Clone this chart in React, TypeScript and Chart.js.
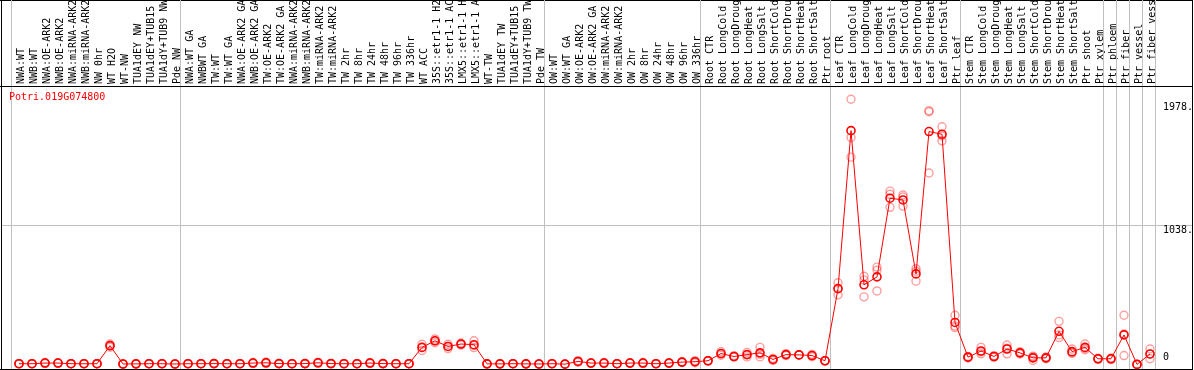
import React, { useEffect, useRef } from "react";
import { Chart, registerables } from "chart.js";

Chart.register(...registerables);

const geneTitle = "Potri.019G074800";

const xLabels: string[] = [
  "NWA:WT", "NWB:WT", "NWA:OE-ARK2", "NWB:OE-ARK2", "NWA:miRNA-ARK2", "NWB:miRNA-ARK2", "NW 0hr", "WT H2O", "WT-NW",
  "TUA1dEY NW", "TUA1dEY+TUB15 NW", "TUA1dY+TUB9 NW", "Pde NW",
  "NWA:WT GA", "NWBWT GA", "TW:WT", "TW:WT GA", "NWA:OE-ARK2 GA", "NWB:OE-ARK2 GA", "TW:OE-ARK2", "TW:OE-ARK2 GA",
  "NWA:miRNA-ARK2 GA", "NWB:miRNA-ARK2 GA", "TW:miRNA-ARK2", "TW:miRNA-ARK2 GA", "TW 2hr", "TW 8hr", "TW 24hr", "TW 48hr",
  "TW 96hr", "TW 336hr", "WT ACC", "35S::etr1-1 H2O", "35S::etr1-1 ACC", "LMX5::etr1-1 H2O", "LMX5::etr1-1 ACC", "WT-TW",
  "TUA1dEY TW", "TUA1dEY+TUB15 TW", "TUA1dY+TUB9 TW", "Pde TW",
  "OW:WT", "OW:WT GA", "OW:OE-ARK2", "OW:OE-ARK2 GA", "OW:miRNA-ARK2", "OW:miRNA-ARK2 GA", "OW 2hr", "OW 8hr", "OW 24hr",
  "OW 48hr", "OW 96hr", "OW 336hr",
  "Root CTR", "Root LongCold", "Root LongDrought", "Root LongHeat", "Root LongSalt", "Root ShortCold", "Root ShortDrought",
  "Root ShortHeat", "Root ShortSalt", "Ptr root",
  "Leaf CTR", "Leaf LongCold", "Leaf LongDrought", "Leaf LongHeat", "Leaf LongSalt", "Leaf ShortCold", "Leaf ShortDrought",
  "Leaf ShortHeat", "Leaf ShortSalt", "Ptr leaf",
  "Stem CTR", "Stem LongCold", "Stem LongDrought", "Stem LongHeat", "Stem LongSalt", "Stem ShortCold", "Stem ShortDrought",
  "Stem ShortHeat", "Stem ShortSalt", "Ptr shoot", "Ptr xylem",
  "Ptr phloem", "Ptr fiber", "Ptr vessel", "Ptr fiber vessel",
];

const meanValues: number[] = [
  5, 5, 10, 10, 5, 5, 5, 140, 3, 4, 5, 5, 3,
  5, 5, 6, 5, 5, 10, 12, 6, 5, 6, 12, 6, 5, 5, 10, 6, 5, 5, 127, 176, 134, 152, 147, 4, 4, 5, 4, 3,
  5, 2, 22, 10, 10, 5, 10, 10, 5, 10, 17, 20,
  27, 81, 59, 73, 86, 37, 73, 71, 66, 27,
  565, 1744, 594, 653, 1240, 1227, 675, 1737, 1717, 313,
  54, 100, 59, 115, 86, 49, 49, 247, 95, 127, 42,
  42, 220, 0, 78,
];

const rep1: number[] = [
  4, 5, 14, 12, 5, 4, 5, 152, 3, 4, 5, 6, 3,
  5, 5, 7, 5, 5, 14, 18, 7, 5, 7, 16, 6, 5, 5, 14, 7, 5, 5, 150, 190, 150, 160, 176, 4, 4, 5, 4, 3,
  6, 2, 28, 12, 14, 5, 12, 14, 6, 13, 20, 28,
  30, 95, 64, 90, 127, 45, 80, 72, 75, 28,
  609, 1978, 658, 726, 1293, 1264, 714, 1893, 1773, 367,
  48, 127, 53, 145, 78, 29, 42, 321, 115, 152, 38,
  36, 367, 0, 115,
];

const rep2: number[] = [
  5, 5, 10, 10, 5, 5, 5, 140, 3, 4, 5, 5, 3,
  5, 5, 6, 5, 5, 10, 12, 6, 5, 6, 12, 6, 5, 5, 10, 6, 5, 5, 127, 176, 134, 152, 140, 4, 4, 5, 4, 3,
  5, 2, 22, 10, 10, 5, 10, 10, 5, 10, 17, 20,
  27, 80, 58, 73, 75, 37, 73, 71, 66, 27,
  567, 1693, 629, 702, 1269, 1249, 695, 1885, 1704, 286,
  54, 94, 59, 121, 86, 56, 49, 220, 88, 120, 42,
  42, 227, 0, 77,
];

const rep3: number[] = [
  6, 5, 6, 8, 5, 6, 5, 128, 3, 4, 5, 4, 3,
  5, 5, 5, 5, 5, 6, 6, 5, 5, 5, 8, 6, 5, 5, 6, 5, 5, 5, 104, 162, 118, 144, 125, 4, 4, 5, 4, 3,
  4, 2, 16, 8, 6, 5, 8, 6, 4, 7, 14, 12,
  24, 68, 55, 56, 56, 29, 66, 70, 57, 26,
  519, 1546, 504, 548, 1172, 1181, 621, 1428, 1668, 274,
  60, 79, 65, 79, 94, 62, 56, 200, 82, 109, 46,
  48, 66, 0, 42,
];

// category indices where a grey separator is drawn
const groupBoundaries: number[] = [0, 13, 41, 53, 63, 73, 84, 85, 86, 87, 88];

const yTickValues: number[] = [0, 1038.45, 1978];
const yTickLabels: string[] = ["0", "1038.", "1978."];
const yMax = 2077;

const MONO = "'DejaVu Sans Mono', monospace";

const decorPlugin = {
  id: "decor",
  beforeDatasetsDraw(chart: any) {
    const ctx = chart.ctx as CanvasRenderingContext2D;
    const xs = chart.scales.x;
    const ys = chart.scales.y;
    ctx.save();
    // grey separators
    ctx.fillStyle = "#c0c0c0";
    groupBoundaries.forEach((k) => {
      const px = Math.floor(xs.getPixelForValue(k - 0.6));
      ctx.fillRect(px, 0, 1, 369);
    });
    // mid gridline
    const gy = Math.round(ys.getPixelForValue(yTickValues[1]));
    ctx.fillRect(2, gy, 1190, 1);
    // borders
    ctx.fillStyle = "#000000";
    ctx.fillRect(0, 86, 1193, 1);
    ctx.fillRect(0, 369, 1193, 1);
    ctx.fillRect(1, 0, 1, 370);
    ctx.fillRect(1192, 0, 1, 370);
    // title
    ctx.font = "10px " + MONO;
    ctx.fillStyle = "#ff0000";
    ctx.textAlign = "left";
    ctx.textBaseline = "middle";
    ctx.fillText(geneTitle, 9, 97);
    // y labels
    ctx.fillStyle = "#000000";
    const offs = [-7, 5, 8];
    yTickValues.forEach((v, i) => {
      const py = ys.getPixelForValue(v) + offs[i];
      ctx.fillText(yTickLabels[i], 1163, py);
    });
    ctx.restore();
  },
  beforeDraw(chart: any) {
    const ctx = chart.ctx as CanvasRenderingContext2D;
    ctx.save();
    ctx.fillStyle = "#ffffff";
    ctx.fillRect(0, 0, chart.width, chart.height);
    ctx.fillStyle = "#000000";
    ctx.fillRect(0, 0, 1193, 1);
    ctx.restore();
  },
};

export default function App() {
  const canvasRef = useRef<HTMLCanvasElement | null>(null);

  useEffect(() => {
    document.body.style.margin = "0";
    const canvas = canvasRef.current;
    if (!canvas) return;
    const meanPts = meanValues.map((v, i) => ({ x: i, y: v }));
    const repPts: { x: number; y: number }[] = [];
    [rep1, rep2, rep3].forEach((arr) => arr.forEach((v, i) => repPts.push({ x: i, y: v })));

    const chart = new Chart(canvas, {
      type: "line",
      data: {
        datasets: [
          {
            label: "mean",
            data: meanPts,
            borderColor: "#ff0000",
            borderWidth: 1,
            pointRadius: 4,
            pointBorderWidth: 1.6,
            pointBorderColor: "#ff0000",
            pointBackgroundColor: "rgba(0,0,0,0)",
            tension: 0,
            clip: false as any,
          },
          {
            label: "replicates",
            data: repPts,
            showLine: false,
            pointRadius: 4,
            pointBorderWidth: 1.4,
            pointBorderColor: "rgba(255,0,0,0.38)",
            pointBackgroundColor: "rgba(0,0,0,0)",
            clip: false as any,
          },
        ],
      },
      options: {
        animation: false,
        responsive: false,
        events: [],
        layout: { padding: { left: 11, right: 39, top: 0, bottom: 1 } },
        scales: {
          x: {
            type: "linear",
            position: "top",
            min: -8 / 13,
            max: 88 - 8 / 13,
            grid: { display: false, drawTicks: false },
            border: { display: false },
            ticks: {
              autoSkip: false,
              minRotation: 90,
              maxRotation: 90,
              padding: 2,
              labelOffset: 14,
              color: "#000000",
              font: { family: MONO, size: 10 },
              callback: (v: any) => xLabels[Math.round(Number(v))] ?? "",
            },
            afterBuildTicks: (s: any) => {
              s.ticks = xLabels.map((_, i) => ({ value: i }));
            },
            afterFit: (s: any) => {
              s.height = 86;
            },
          },
          y: { display: false, min: 0, max: yMax },
        },
        plugins: { legend: { display: false }, tooltip: { enabled: false }, title: { display: false } },
      },
      plugins: [decorPlugin],
    });
    return () => chart.destroy();
  }, []);

  return (
    <canvas ref={canvasRef} width={1194} height={370} style={{ display: "block", width: "1194px", height: "370px" }} />
  );
}
